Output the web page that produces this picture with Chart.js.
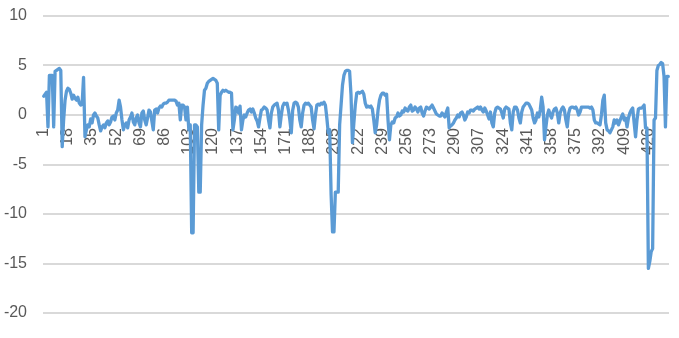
<!DOCTYPE html>
<html>
<head>
<meta charset="utf-8">
<script src="https://cdn.jsdelivr.net/npm/chart.js@4.4.1/dist/chart.umd.min.js"></script>
<style>
  html, body { margin: 0; padding: 0; background: #ffffff; }
  #wrap { width: 679px; height: 338px; }
</style>
</head>
<body>
<div id="wrap"><canvas id="lineChart" width="679" height="338"></canvas></div>
<script>
// Series values (one value per category 1..440)
const seriesValues = [
  1.9, 2.1, 2.3, -1.2, 4.0, 4.0, 4.0, -1.2, 4.4, 4.5,
  4.6, 4.7, 4.5, -3.2, -0.5, 1.5, 2.4, 2.7, 2.6, 2.2,
  1.6, 2.0, 1.7, 1.5, 1.8, 1.2, 1.0, 1.1, 3.8, -2.2,
  -1.5, -1.0, -1.2, -0.4, -0.8, 0.0, 0.2, -0.1, -0.3, -1.0,
  -1.6, -1.2, -1.0, -1.3, -0.8, -0.6, -1.0, -0.7, -0.2, -0.1,
  -0.5, 0.2, 0.5, 1.5, 0.8, -0.5, -1.5, -1.0, -0.8, -1.3,
  -0.5, -0.2, 0.2, -0.7, -1.0, -0.3, 0.0, -0.8, -1.2, 0.2,
  0.4, -0.5, -1.0, -0.3, 0.5, 0.3, -0.6, -1.5, 0.5, 0.6,
  0.2, 0.7, 0.9, 0.8, 1.1, 1.2, 1.2, 1.3, 1.5, 1.5,
  1.5, 1.5, 1.5, 1.4, 1.0, 1.2, -0.5, 1.0, 1.0, 0.8,
  -0.5, 0.8, -1.5, -1.0, -11.9, -11.9, -1.0, -1.0, -1.2, -7.8,
  -7.8, -1.0, 1.0, 2.5, 2.7, 3.2, 3.4, 3.5, 3.6, 3.7,
  3.6, 3.5, 3.2, -1.5, 2.0, 2.3, 2.5, 2.4, 2.5, 2.4,
  2.3, 2.3, 2.2, -1.5, -0.5, 0.8, 0.7, 0.2, 0.9, -1.5,
  -0.5, 0.0, -0.2, 0.2, 0.5, 0.6, 0.3, 0.6, 0.2, -0.3,
  -0.6,
  -1.2, -0.3, 0.5, 0.6, 0.8, 0.7, 0.5, -0.5, -1.3, 0.2,
  0.8, 1.0, 1.1, 1.2, 0.5, -1.2, 0.0, 0.9, 1.2, 1.1,
  1.2, 0.5, -0.5, -1.8, 0.5, 1.2, 1.3, 1.2, 0.8, -0.5,
  -1.2, 0.2, 1.0, 1.2, 1.1, 1.2, 1.0, 0.8, -0.5, -1.4,
  0.0, 1.0, 1.1, 1.0, 1.2, 1.1, 1.3, 1.0, -0.3, -1.8,
  -1.5, -8.0, -11.8, -11.8, -7.8, -7.8, -7.8, -1.0, 1.0, 3.0,
  4.0, 4.4, 4.5, 4.5, 4.4, 2.0, -2.8, -0.8, 1.0, 2.2,
  2.3, 2.2, 2.3, 2.4, 2.1, 1.2, 0.8, 0.9, 0.8, 0.9,
  0.6, -0.5, -1.8, -1.0, 0.5, 1.5, 2.0, 2.2, 2.2, 2.0,
  2.1, -0.5, -2.5, -1.0, -0.7, -0.8, -0.3, -0.2, 0.2, -0.1,
  0.0, 0.4, 0.3, 0.7, 0.5, 0.4, 0.8, 1.0, 0.4, 0.5,
  0.8, 0.6, 0.3, 0.7, 0.8, 0.2, -0.1, 0.4, 0.8, 0.7,
  0.6, 0.8, 1.0, 0.7, 0.4, 0.1, 0.0, -0.1, -0.1, 0.2,
  0.0, -0.2, 0.3, 0.7, -1.3, -1.1, -1.0, -0.8, -0.5, -0.3,
  0.0, -0.2, 0.2, 0.3, 0.0, -0.5, -0.2, 0.3, 0.2, 0.5,
  0.5,
  0.4, 0.6, 0.7, 0.8, 0.6, 0.8, 0.5, 0.3, 0.7, 0.4,
  0.0, -0.4, 0.3, -0.8, -1.2, 0.2, 0.7, 0.8, 0.7, 0.6,
  0.2, -0.3, 0.6, 0.8, 0.7, 0.6, -0.8, -1.5, 0.3, 0.8,
  0.8, 0.5, -0.3, -0.8, 0.3, 0.8, 1.0, 1.2, 1.2, 1.1,
  0.8, 0.5, -0.3, -0.8, -0.5, 0.2, -0.2, 0.5, 1.8, 0.8,
  -2.5, -1.2, 0.0, 0.5, 0.0, -0.3, 0.3, 0.6, 0.7, 0.2,
  -0.8, 0.2, 0.6, 0.8, 0.5, -0.5, -1.2, 0.2, 0.7, 0.8,
  0.8, 0.7, 0.8, 0.5, 0.0, 0.3, 0.8, 0.8, 0.8, 0.8,
  0.8, 0.8, 0.7, 0.8, 0.5, -0.5, -0.8, -0.8, -0.9, -1.0,
  0.0, 1.5, 2.0, -0.8, -1.5, -1.6, -1.8, -1.5, -1.2, -0.5,
  -0.8, -0.5, -1.0, -0.6, -0.2, 0.1, -0.5, -0.3, -1.2, -0.3,
  0.2, 0.5, 0.7, -0.8, -2.2, -0.5, 0.6, 0.7, 0.7, 0.8,
  1.0, -1.3, -1.3,
  -15.5, -14.8, -13.8, -13.5, -0.5, -0.3, 4.5, 5.0, 5.1, 5.3,
  5.2, 3.9, -1.2, 3.9, 3.9
];

// Categories are the running numbers 1..n; every 17th one is labelled
const categories = seriesValues.map((v, i) => String(i + 1));
const labelEvery = 17;

// Value axis
const yMin = -20;
const yMax = 10;
const yStep = 5;

const axisFont = { family: "'Liberation Sans', Arial, sans-serif", size: 16 };
const textColor = "#595959";

const ctx = document.getElementById("lineChart").getContext("2d");
const lineChart = new Chart(ctx, {
  type: "line",
  data: {
    labels: categories,
    datasets: [
      {
        data: seriesValues,
        borderColor: "#5B9BD5",
        borderWidth: 3.3,
        borderJoinStyle: "round",
        borderCapStyle: "round",
        pointRadius: 0,
        tension: 0,
        fill: false,
      },
    ],
  },
  options: {
    responsive: false,
    animation: false,
    layout: {
      padding: { top: 16, right: 10, bottom: 25, left: 0 },
    },
    plugins: {
      legend: { display: false },
      tooltip: { enabled: false },
    },
    scales: {
      x: {
        type: "category",
        offset: true,
        position: { y: 0 },
        // tick marks are invisible, their length only pushes the labels down
        grid: { display: false, drawTicks: true, tickLength: 10 },
        border: { display: false },
        ticks: {
          autoSkip: false,
          minRotation: 90,
          maxRotation: 90,
          padding: 3,
          color: textColor,
          font: axisFont,
          callback: (value, index) => (index % labelEvery === 0 ? categories[index] : null),
        },
      },
      y: {
        min: yMin,
        max: yMax,
        grid: {
          color: "#d9d9d9",
          lineWidth: 2,
          drawTicks: true,
          tickLength: 13,
          tickColor: "rgba(0,0,0,0)",
        },
        border: { display: false },
        ticks: {
          stepSize: yStep,
          padding: 3,
          color: textColor,
          font: axisFont,
        },
        afterFit: (scale) => {
          scale.width = 43;
        },
      },
    },
  },
});
</script>
</body>
</html>
